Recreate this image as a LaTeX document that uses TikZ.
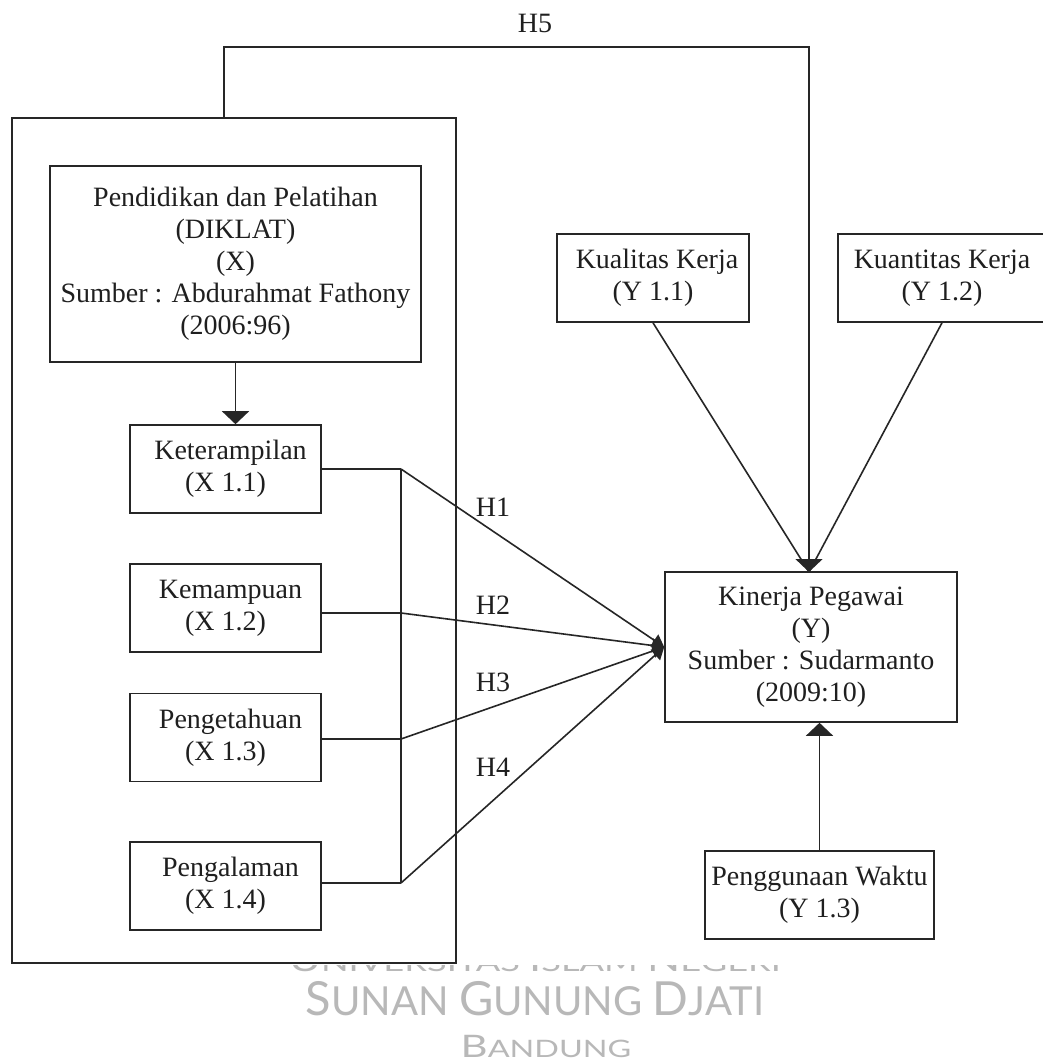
\documentclass[tikz,border=0pt]{standalone}
\usepackage{fontspec}
\setmainfont{Liberation Serif}
\newfontfamily\wmfont{Lato}
\usetikzlibrary{arrows.meta,calc}
\definecolor{linec}{HTML}{262626}
\definecolor{wmgray}{HTML}{B8B8B8}
\begin{document}
\begin{tikzpicture}[x=1pt,y=-1pt,
  box/.style={draw=linec, line width=1.6pt, inner sep=0pt, align=center,
    font=\fontsize{28}{32}\selectfont, text=black!88},
  conn/.style={draw=linec, line width=1.6pt},
  bigtip/.style={-{Triangle[width=27pt,length=13pt]}},
  smalltip/.style={-{Triangle[width=14pt,length=12pt]}},
  lbl/.style={font=\fontsize{28}{32}\selectfont, inner sep=0pt, text=black!88},
  wm/.style={font=\wmfont, text=wmgray, inner sep=0pt, anchor=base}]
\useasboundingbox (0,0) rectangle (1042,1064);
\fill[white] (0,0) rectangle (1042,1064);

% watermark (top line partly hidden)
\begin{scope}
\clip (0,965) rectangle (1042,1064);
\node[wm] (wm1) at (535,971) {\scalebox{1.45}[1]{\fontsize{30}{30}\selectfont U\fontsize{25}{25}\selectfont NIVERSITAS \fontsize{30}{30}\selectfont I\fontsize{25}{25}\selectfont SLAM \fontsize{30}{30}\selectfont N\fontsize{25}{25}\selectfont EGERI}};
\end{scope}
\node[wm] (wm2) at (535,1015) {\fontsize{47}{47}\selectfont S\fontsize{40}{40}\selectfont UNAN \fontsize{47}{47}\selectfont G\fontsize{40}{40}\selectfont UNUNG \fontsize{47}{47}\selectfont D\fontsize{40}{40}\selectfont JATI};
\node[wm] (wm3) at (546,1057) {\scalebox{1.35}[1]{\fontsize{31}{31}\selectfont B\fontsize{24}{24}\selectfont ANDUNG}};

% boxes
\node[box, minimum width=444pt, minimum height=845pt] (outer) at (234,540.5) {};
\node[box, minimum width=371pt, minimum height=196pt] (diklat) at (235.5,264)
  {Pendidikan dan Pelatihan\\(DIKLAT)\\(X)\\Sumber : Abdurahmat Fathony\\(2006:96)};
\node[box, minimum width=191pt, minimum height=88pt] (ket) at (225.5,469) {\hspace*{10pt}Keterampilan\\(X 1.1)};
\node[box, minimum width=191pt, minimum height=88pt] (kem) at (225.5,608) {\hspace*{10pt}Kemampuan\\(X 1.2)};
\node[box, minimum width=191pt, minimum height=88pt] (peng) at (225.5,737.5) {\hspace*{10pt}Pengetahuan\\(X 1.3)};
\node[box, minimum width=191pt, minimum height=88pt] (pgl) at (225.5,886) {\hspace*{10pt}Pengalaman\\(X 1.4)};
\node[box, minimum width=192pt, minimum height=88pt] (kual) at (653,278) {\hspace*{8pt}Kualitas Kerja\\(Y 1.1)};
\node[box, minimum width=208pt, minimum height=88pt] (kuan) at (942,278) {Kuantitas Kerja\\(Y 1.2)};
\node[box, minimum width=292pt, minimum height=150pt] (kin) at (811,647)
  {Kinerja Pegawai\\(Y)\\Sumber : Sudarmanto\\(2009:10)};
\node[box, minimum width=229pt, minimum height=88pt] (wak) at (819.5,895) {Penggunaan Waktu\\(Y 1.3)};

% junction points
\coordinate (j1) at (401,469);
\coordinate (j2) at (401,613);
\coordinate (j3) at (401,739);
\coordinate (j4) at (401,883);
\coordinate (h5a) at (224,47);
\coordinate (h5b) at (809,47);
\coordinate (ytop) at (809,572);

% connectors
\draw[conn, bigtip] (diklat.south) -- (diklat.south |- ket.north);
\draw[conn] (ket.east |- j1) -- (j1);
\draw[conn] (kem.east |- j2) -- (j2);
\draw[conn] (peng.east |- j3) -- (j3);
\draw[conn] (pgl.east |- j4) -- (j4);
\draw[conn] (j1) -- (j4);
\draw[conn, smalltip] (j1) -- (kin.west);
\draw[conn, smalltip] (j2) -- (kin.west);
\draw[conn, smalltip] (j3) -- (kin.west);
\draw[conn, smalltip] (j4) -- (kin.west);
\draw[conn] (kual.south) -- (ytop);
\draw[conn] (kuan.south) -- (ytop);
\draw[conn, bigtip] (outer.north -| h5a) -- (h5a) -- (h5b) -- (ytop);
\draw[conn, bigtip] (wak.north) -- (wak.north |- kin.south);

% labels
\node[lbl] (lh5) at (535,23) {H5};
\node[lbl] (lh1) at (493,507) {H1};
\node[lbl] (lh2) at (493,605) {H2};
\node[lbl] (lh3) at (493,682) {H3};
\node[lbl] (lh4) at (493,767) {H4};
\end{tikzpicture}
\end{document}
